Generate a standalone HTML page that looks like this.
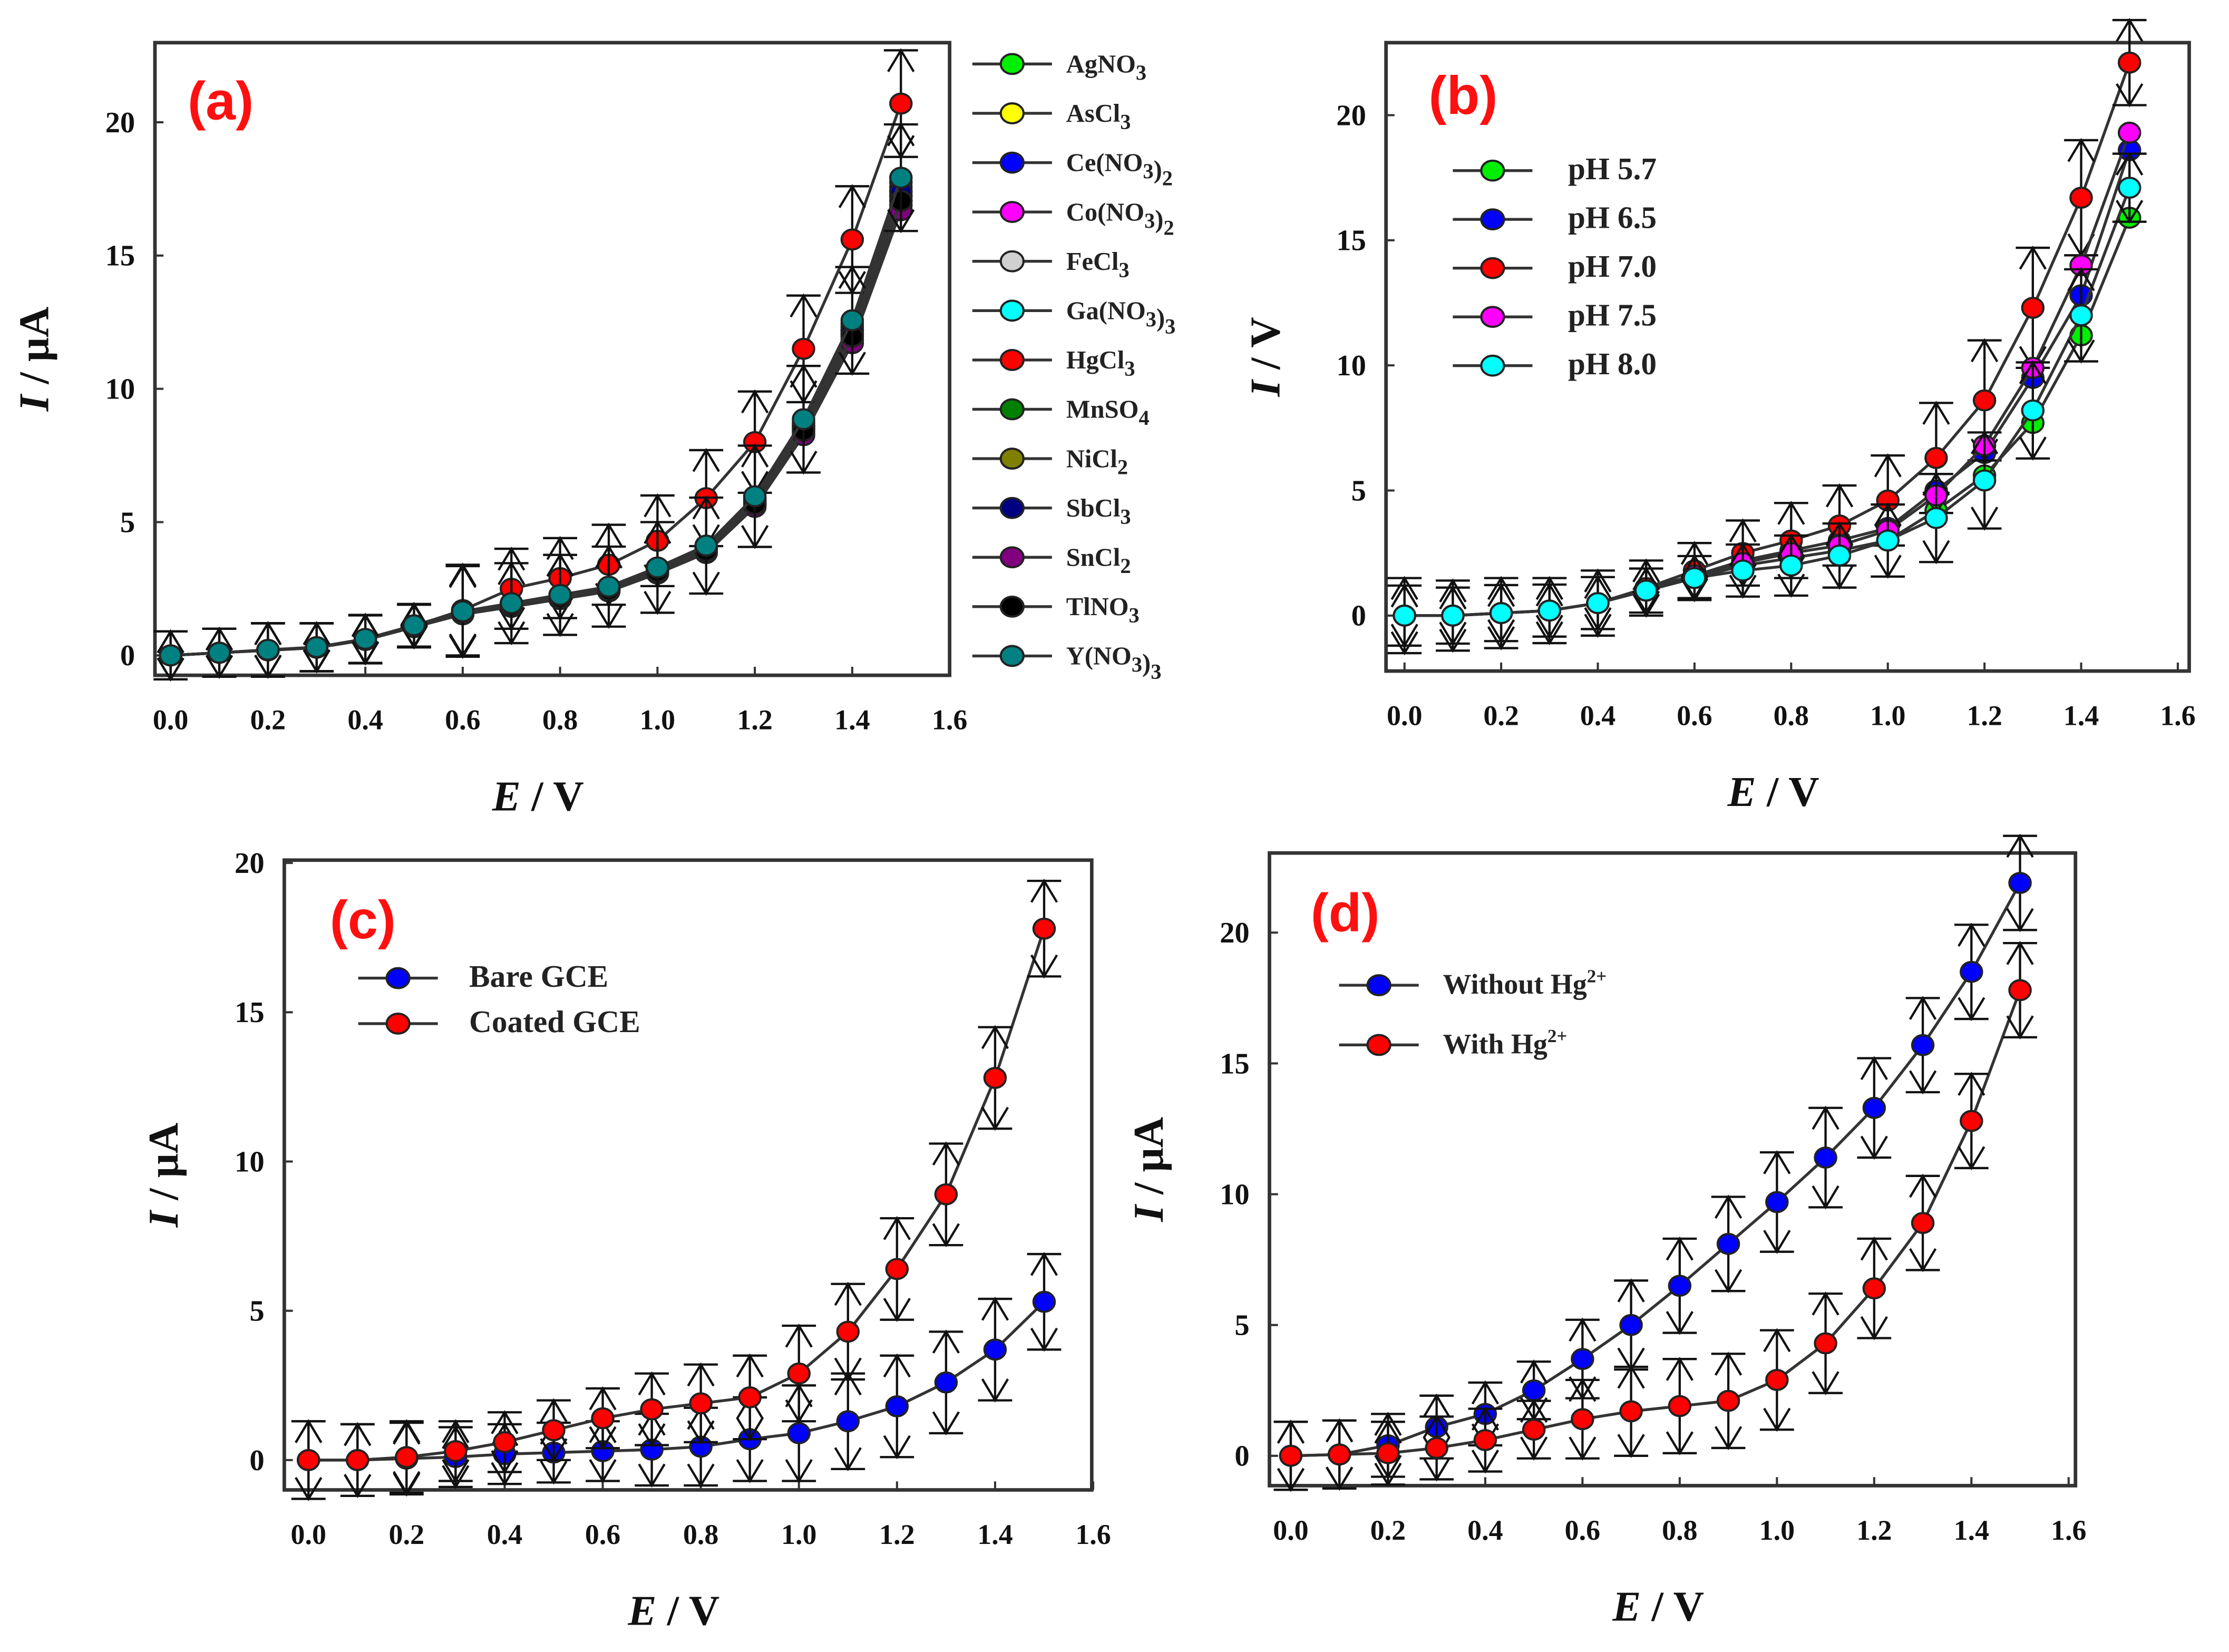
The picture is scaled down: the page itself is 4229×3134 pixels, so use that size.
<!DOCTYPE html>
<html><head><meta charset="utf-8">
<style>
html,body{margin:0;padding:0;background:#fff;}
svg{display:block;}
text{font-family:"Liberation Serif",serif;font-weight:bold;}
</style></head>
<body>
<svg id="fig" width="4229" height="3134" viewBox="0 0 1568 1162" xmlns="http://www.w3.org/2000/svg"></svg>
<script>
const xVals=[0,0.1,0.2,0.3,0.4,0.5,0.6,0.7,0.8,0.9,1.0,1.1,1.2,1.3,1.4,1.5];
const xTicks=[0,0.2,0.4,0.6,0.8,1.0,1.2,1.4,1.6];
const yTicksAB=[0,5,10,15,20];
// panel a
const aNames=["AgNO3","AsCl3","Ce(NO3)2","Co(NO3)2","FeCl3","Ga(NO3)3","HgCl3","MnSO4","NiCl2","SbCl3","SnCl2","TlNO3","Y(NO3)3"];
const aColors=["#00ee00","#ffff00","#0000ff","#ff00ff","#d0d0d0","#00ffff","#ff0000","#008000","#808000","#000080","#800080","#000000","#008080"];
const aBase=[0,0.1,0.2,0.3,0.6,1.1,1.6,1.9,2.2,2.5,3.2,4.0,5.8,8.6,12.2,17.4];
const aHg=[0,0.1,0.2,0.3,0.6,1.1,1.7,2.5,2.9,3.4,4.3,5.9,8.0,11.5,15.6,20.7];
const aScale=[1.0,0.98,1.01,0.99,1.0,1.02,1,0.97,0.99,1.0,0.96,0.98,1.03];
const aErr=[0.9,0.9,1.0,0.9,0.9,0.8,1.7,1.5,1.5,1.5,1.7,1.8,1.9,2.0,2.0,2.0];
// panel b
const bNames=["pH 5.7","pH 6.5","pH 7.0","pH 7.5","pH 8.0"];
const bColors=["#00ee00","#0000ff","#ff0000","#ff00ff","#00ffff"];
const b57=[0,0,0.1,0.2,0.5,1.0,1.5,2.0,2.3,2.6,3.0,4.2,5.6,7.7,11.2,15.9];
const b65=[0,0,0.1,0.2,0.5,1.1,1.6,2.2,2.6,3.0,3.5,5.0,6.5,9.5,12.8,18.6];
const b70=[0,0,0.1,0.2,0.5,1.1,1.8,2.5,3.0,3.6,4.6,6.3,8.6,12.3,16.7,22.1];
const b75=[0,0,0.1,0.2,0.5,1.0,1.6,2.1,2.5,2.8,3.4,4.8,6.8,9.9,14.0,19.3];
const b80=[0,0,0.1,0.2,0.5,1.0,1.5,1.8,2.0,2.4,3.0,3.9,5.4,8.2,12.0,17.1];
const bErr=[1.5,1.4,1.4,1.3,1.3,1.1,1.1,1.3,1.5,1.6,1.8,2.2,2.4,2.4,2.3,1.7];
// panel c
const cNames=["Bare GCE","Coated GCE"];
const cColors=["#0000ff","#ff0000"];
const cBare=[0,0,0.05,0.1,0.2,0.25,0.3,0.35,0.45,0.7,0.9,1.3,1.8,2.6,3.7,5.3];
const cCoated=[0,0,0.1,0.3,0.6,1.0,1.4,1.7,1.9,2.1,2.9,4.3,6.4,8.9,12.8,17.8];
const cErr=[1.3,1.2,1.2,1.0,1.0,1.0,1.0,1.2,1.3,1.4,1.6,1.6,1.7,1.7,1.7,1.6];
// panel d
const dNames=["Without Hg","With Hg"];
const dColors=["#0000ff","#ff0000"];
const dWithout=[0,0.05,0.4,1.1,1.6,2.5,3.7,5.0,6.5,8.1,9.7,11.4,13.3,15.7,18.5,21.9];
const dWith=[0,0.05,0.1,0.3,0.6,1.0,1.4,1.7,1.9,2.1,2.9,4.3,6.4,8.9,12.8,17.8];
const dErr=[1.3,1.3,1.2,1.2,1.2,1.1,1.5,1.7,1.8,1.8,1.9,1.9,1.9,1.8,1.8,1.8];

const NS="http://www.w3.org/2000/svg";
const svg=document.getElementById('fig');
function el(tag,attrs,parent){const e=document.createElementNS(NS,tag);for(const k in attrs)e.setAttribute(k,attrs[k]);(parent||svg).appendChild(e);return e;}

function panel(cfg){
  const g=el('g',{});
  
  
  const X=v=>cfg.x0+v*cfg.xs, Y=v=>cfg.y0-v*cfg.ys;
  const box=el('rect',{x:cfg.bx,y:cfg.by,width:cfg.bw,height:cfg.bh,fill:'none',stroke:'#333',"stroke-width":2.5},g);
  
  
  const bot=cfg.by+cfg.bh;
  xTicks.forEach(t=>{
    el('line',{x1:X(t),x2:X(t),y1:bot,y2:bot-6,stroke:'#333',"stroke-width":1.5},g);
    const tx=el('text',{x:X(t),y:bot+38,"text-anchor":"middle","font-size":20,fill:'#111'},g);
    tx.textContent=t.toFixed(1);
    
    
  });
  cfg.yt.forEach(t=>{
    el('line',{x1:cfg.bx,x2:cfg.bx+6,y1:Y(t),y2:Y(t),stroke:'#333',"stroke-width":1.5},g);
    const tx=el('text',{x:cfg.bx-14,y:Y(t)+7,"text-anchor":"end","font-size":21,fill:'#111'},g);
    tx.textContent=t;
    
    
  });
  const xl=el('text',{x:cfg.bx+cfg.bw/2-10,y:bot+95,"text-anchor":"middle","font-size":30,fill:'#111'},g);
  xl.innerHTML='<tspan font-style="italic">E</tspan> / V';
  
  
  const yx=cfg.bx-75, yy=cfg.by+cfg.bh/2;
  const yl=el('text',{x:yx,y:yy,"text-anchor":"middle","font-size":30,fill:'#111',transform:`rotate(-90 ${yx} ${yy})`},g);
  yl.innerHTML='<tspan font-style="italic">I</tspan> / '+cfg.yunit;
  
  
  const pl=el('text',{x:cfg.lx,y:cfg.ly,"font-size":38,fill:'#ff1010',style:'font-family:"Liberation Sans",sans-serif;font-weight:bold'},g);
  pl.textContent='('+cfg.id+')';
  
  
  cfg.series.forEach((s,si)=>{
    const sg=el('g',{},g);
    
    
    el('polyline',{points:xVals.map((v,i)=>X(v)+','+Y(s.data[i])).join(' '),fill:'none',stroke:'#333',"stroke-width":2},sg);
    if(s.err){
      xVals.forEach((v,i)=>{
        const x=X(v),yt=Y(s.data[i]+s.err[i]),yb=Y(s.data[i]-s.err[i]);
        const p=`M${x} ${yt}L${x} ${yb}M${x-12} ${yt}L${x+12} ${yt}M${x-12} ${yb}L${x+12} ${yb}M${x-9} ${yt+15}L${x} ${yt}L${x+9} ${yt+15}M${x-9} ${yb-15}L${x} ${yb}L${x+9} ${yb-15}`;
        const e=el('path',{d:p,fill:'none',stroke:'#111',"stroke-width":1.6},sg);
        
        
      });
    }
    xVals.forEach((v,i)=>{
      const c=el('ellipse',{cx:X(v),cy:Y(s.data[i]),rx:7.5,ry:7,fill:s.color,stroke:'#222',"stroke-width":1.5},sg);
      
      
    });
  });
  const lg=el('g',{},g);
  
  
  cfg.series.forEach((s,i)=>{
    const y=cfg.leg.y+i*cfg.leg.dy;
    const eg=el('g',{},lg);
    
    
    el('line',{x1:cfg.leg.x-28,x2:cfg.leg.x+28,y1:y,y2:y,stroke:'#333',"stroke-width":2},eg);
    el('ellipse',{cx:cfg.leg.x,cy:y,rx:8,ry:7,fill:s.color,stroke:'#222',"stroke-width":1.5},eg);
    const t=el('text',{x:cfg.leg.tx,y:y+6,"font-size":cfg.leg.fs,fill:'#222'},eg);
    t.innerHTML=s.label;
  });
}
function chem(n){return n.replace(/(\d)/g,'<tspan dy="5" font-size="15">$1</tspan><tspan dy="-5"></tspan>');}

panel({id:'a',bx:109,by:30,bw:559,bh:445,x0:120,xs:342.5,y0:461,ys:18.75,yt:yTicksAB,yunit:'μA',lx:132,ly:84,
  series:aNames.map((n,i)=>({name:n,label:chem(n),color:aColors[i],data:(i==6?aHg:aBase.map(v=>+(v*aScale[i]).toFixed(2))),err:(i==6||i==12)?aErr:null})),
  leg:{x:712,y:45,dy:34.7,tx:750,fs:18}});
panel({id:'b',bx:975,by:30,bw:565,bh:442,x0:988,xs:340,y0:433,ys:17.6,yt:yTicksAB,yunit:'V',lx:1005,ly:80,
  series:[b57,b65,b70,b75,b80].map((d,i)=>({name:bNames[i],label:bNames[i],color:bColors[i],data:d,err:i==2?bErr:(i==4?bErr.map(v=>v*0.8):null)})),
  leg:{x:1050,y:120,dy:34.3,tx:1103,fs:22}});
panel({id:'c',bx:200,by:605,bw:568,bh:443,x0:217,xs:345,y0:1027,ys:21,yt:[0,5,10,15,20],yunit:'μA',lx:232,ly:660,
  series:[{name:cNames[0],label:cNames[0],color:cColors[0],data:cBare,err:cErr},{name:cNames[1],label:cNames[1],color:cColors[1],data:cCoated,err:cErr}],
  leg:{x:280,y:688,dy:32,tx:330,fs:22}});
panel({id:'d',bx:893,by:600,bw:567,bh:445,x0:908,xs:342,y0:1024,ys:18.4,yt:[0,5,10,15,20],yunit:'μA',lx:922,ly:655,
  series:[{name:dNames[0],label:'Without Hg<tspan dy="-8" font-size="13">2+</tspan>',color:dColors[0],data:dWithout,err:dErr},{name:dNames[1],label:'With Hg<tspan dy="-8" font-size="13">2+</tspan>',color:dColors[1],data:dWith,err:dErr}],
  leg:{x:970,y:693,dy:42,tx:1015,fs:20}});
</script>
</body></html>
